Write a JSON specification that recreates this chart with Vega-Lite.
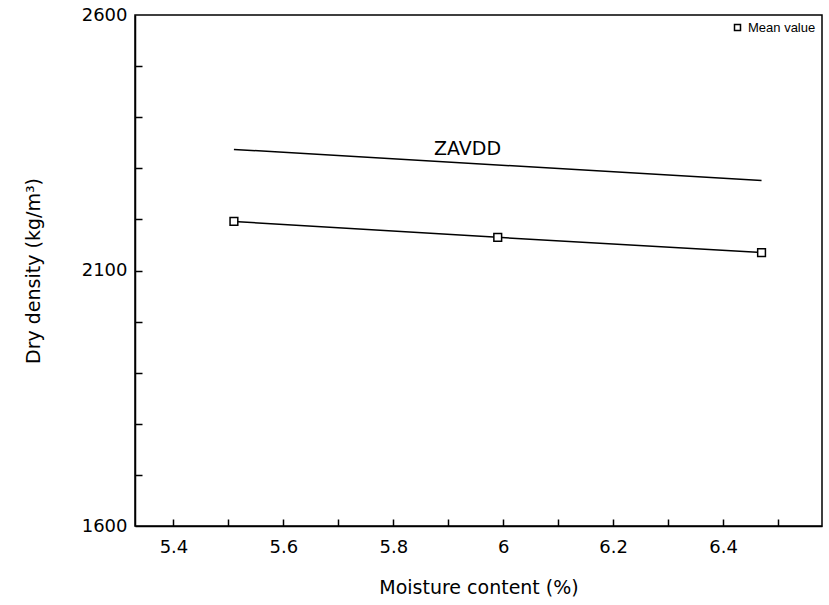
{
  "$schema": "https://vega.github.io/schema/vega-lite/v6.json",
  "width": 687,
  "height": 511,
  "autosize": "none",
  "padding": {"left": 135, "top": 15, "right": 7, "bottom": 79},
  "background": "white",
  "config": {
    "view": {"stroke": "black", "strokeWidth": 1.5},
    "font": "DejaVu Sans",
    "axis": {
      "grid": false,
      "domainColor": "black",
      "domainWidth": 1.5,
      "tickColor": "black",
      "tickWidth": 1.5,
      "labelColor": "black",
      "titleColor": "black",
      "labelFont": "DejaVu Sans",
      "titleFont": "DejaVu Sans",
      "labelFontSize": 18,
      "titleFontSize": 19,
      "titleFontWeight": "normal"
    }
  },
  "resolve": {"axis": {"x": "independent", "y": "independent"}},
  "datasets": {
    "mean": [
      {"moisture": 5.51, "density": 2196, "series": "Mean value"},
      {"moisture": 5.99, "density": 2165, "series": "Mean value"},
      {"moisture": 6.47, "density": 2135, "series": "Mean value"}
    ],
    "zavdd": [
      {"moisture": 5.51, "density": 2337},
      {"moisture": 6.47, "density": 2276}
    ],
    "label": [
      {"moisture": 5.935, "density": 2338, "text": "ZAVDD"}
    ]
  },
  "layer": [
    {
      "data": {"name": "zavdd"},
      "mark": {"type": "line", "color": "black", "strokeWidth": 1.5},
      "encoding": {
        "x": {
          "field": "moisture", "type": "quantitative",
          "scale": {"domain": [5.33, 6.58], "nice": false, "zero": false},
          "axis": {
            "title": "Moisture content (%)",
            "values": [5.4, 5.6, 5.8, 6.0, 6.2, 6.4],
            "labelExpr": "format(datum.value, '~g')",
            "ticks": false,
            "labelPadding": 12,
            "titlePadding": 22
          }
        },
        "y": {
          "field": "density", "type": "quantitative",
          "scale": {"domain": [1600, 2600], "nice": false, "zero": false},
          "axis": {
            "title": "Dry density (kg/m³)",
            "values": [1600, 2100, 2600],
            "labelExpr": "format(datum.value, 'd')",
            "ticks": false,
            "labelPadding": 8,
            "titlePadding": 38
          }
        }
      }
    },
    {
      "data": {"name": "mean"},
      "mark": {"type": "line", "color": "black", "strokeWidth": 1.5},
      "encoding": {
        "x": {
          "field": "moisture", "type": "quantitative",
          "axis": {
            "orient": "top",
            "offset": -511,
            "title": null,
            "labels": false,
            "domain": false,
            "tickSize": 7,
            "values": [5.4, 5.5, 5.6, 5.7, 5.8, 5.9, 6.0, 6.1, 6.2, 6.3, 6.4, 6.5]
          }
        },
        "y": {
          "field": "density", "type": "quantitative",
          "axis": {
            "orient": "right",
            "offset": -687,
            "title": null,
            "labels": false,
            "domain": false,
            "tickSize": 7,
            "values": [1700, 1800, 1900, 2000, 2100, 2200, 2300, 2400, 2500]
          }
        }
      }
    },
    {
      "data": {"name": "mean"},
      "mark": {"type": "point", "shape": "square", "filled": false, "fill": "white", "stroke": "black", "strokeWidth": 1.5, "size": 60, "opacity": 1},
      "encoding": {
        "x": {"field": "moisture", "type": "quantitative", "axis": null},
        "y": {"field": "density", "type": "quantitative", "axis": null},
        "shape": {
          "field": "series", "type": "nominal",
          "scale": {"range": ["square"]},
          "legend": {
            "title": null,
            "orient": "top-right",
            "offset": 6,
            "labelFontSize": 13,
            "labelColor": "black",
            "labelFont": "Liberation Sans",
            "symbolType": "square",
            "symbolSize": 36,
            "encode": {
              "symbols": {
                "update": {
                  "fill": {"value": "#444"},
                  "stroke": {"value": "black"},
                  "strokeWidth": {"value": 1.5},
                  "opacity": {"value": 1}
                }
              }
            }
          }
        }
      }
    },
    {
      "data": {"name": "label"},
      "mark": {"type": "text", "fontSize": 19, "color": "black", "font": "DejaVu Sans"},
      "encoding": {
        "x": {"field": "moisture", "type": "quantitative", "axis": null},
        "y": {"field": "density", "type": "quantitative", "axis": null},
        "text": {"field": "text"}
      }
    }
  ]
}
